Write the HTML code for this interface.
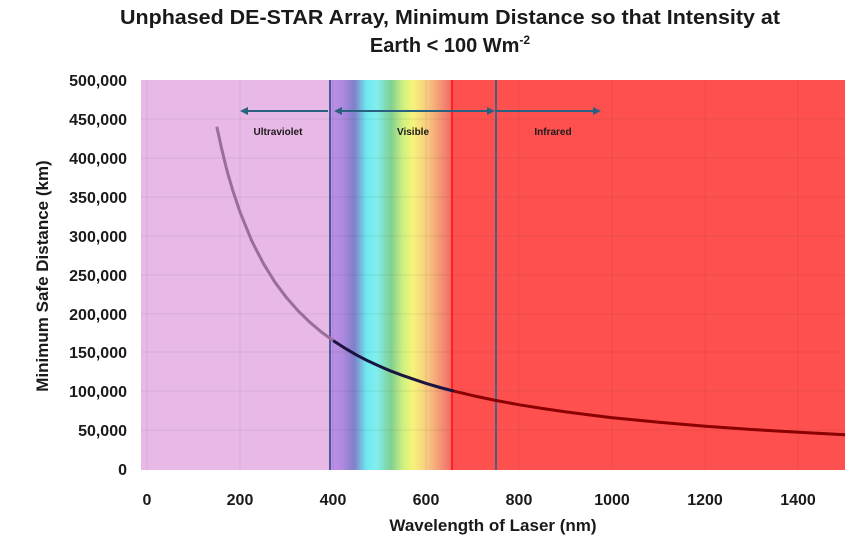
<!DOCTYPE html>
<html><head><style>
body{margin:0;background:#fff;width:857px;height:542px;overflow:hidden}
svg text{font-family:"Liberation Sans",sans-serif;font-weight:bold;fill:#1a1a1a}
</style></head><body>
<svg width="857" height="542" viewBox="0 0 857 542">
<defs>
<linearGradient id="sp" x1="330" x2="452" gradientUnits="userSpaceOnUse">
<stop offset="0" stop-color="#c090e8"/>
<stop offset="0.1" stop-color="#b08ae0"/>
<stop offset="0.2" stop-color="#8080c8"/>
<stop offset="0.3" stop-color="#70e8f0"/>
<stop offset="0.38" stop-color="#80eef0"/>
<stop offset="0.5" stop-color="#80d090"/>
<stop offset="0.6" stop-color="#d0f080"/>
<stop offset="0.68" stop-color="#f6f47a"/>
<stop offset="0.8" stop-color="#f8c880"/>
<stop offset="1" stop-color="#f06868"/>
</linearGradient>
</defs>
<text x="450" y="24" font-size="20" text-anchor="middle" textLength="660" lengthAdjust="spacingAndGlyphs">Unphased DE-STAR Array, Minimum Distance so that Intensity at</text>
<text x="450" y="52" font-size="20" text-anchor="middle">Earth &lt; 100 Wm<tspan font-size="12" dy="-8">-2</tspan></text>
<rect x="141" y="80" width="189" height="390" fill="#e8b8e6"/>
<rect x="330" y="80" width="122" height="390" fill="url(#sp)"/>
<rect x="452" y="80" width="393" height="390" fill="#ff5050"/>
<g stroke="#000" stroke-opacity="0.07" stroke-width="1">
<line x1="141" x2="845" y1="119" y2="119"/><line x1="141" x2="845" y1="158" y2="158"/><line x1="141" x2="845" y1="197" y2="197"/><line x1="141" x2="845" y1="236" y2="236"/><line x1="141" x2="845" y1="275" y2="275"/><line x1="141" x2="845" y1="314" y2="314"/><line x1="141" x2="845" y1="352" y2="352"/><line x1="141" x2="845" y1="391" y2="391"/><line x1="141" x2="845" y1="430" y2="430"/>
<line y1="80" y2="470" x1="147" x2="147"/><line y1="80" y2="470" x1="240" x2="240"/><line y1="80" y2="470" x1="333" x2="333"/><line y1="80" y2="470" x1="426" x2="426"/><line y1="80" y2="470" x1="519" x2="519"/><line y1="80" y2="470" x1="612" x2="612"/><line y1="80" y2="470" x1="705" x2="705"/><line y1="80" y2="470" x1="798" x2="798"/>
</g>
<line x1="330" x2="330" y1="80" y2="470" stroke="#4a5a9a" stroke-width="2"/>
<line x1="452" x2="452" y1="80" y2="470" stroke="#ff2020" stroke-width="2"/>
<line x1="496" x2="496" y1="80" y2="470" stroke="#4a6080" stroke-width="2"/>
<polyline fill="none" stroke="#9a6e9a" stroke-width="3" stroke-linejoin="round" points="216.8,126.7 221.5,148.1 226.1,167 228.4,175.6 233.1,191.4 240.1,212.3 251.7,240.8 263.4,263.6 275,282.3 286.6,297.8 298.3,311 309.9,322.3 321.5,332.1 333.2,340.6"/>
<polyline fill="none" stroke="#1a1440" stroke-width="3" stroke-linejoin="round" points="333.2,340.6 344.8,348.1 356.4,354.9 368,360.9 379.7,366.3 391.3,371.2 403,375.6 414.6,379.6 426.2,383.4 440,387.5 454.2,391.2"/>
<polyline fill="none" stroke="#8b0000" stroke-width="3" stroke-linejoin="round" points="454.2,391.2 472.8,395.6 496.1,400.5 519.3,404.8 542.6,408.5 565.9,411.9 589.1,414.9 612.4,417.7 658.9,422.3 705.5,426.2 752,429.5 798.6,432.3 845.1,434.8"/>
<g stroke="#2a6080" stroke-width="2" fill="#2a6080">
<line x1="244" x2="328" y1="111" y2="111"/><polygon points="240,111 248,107 248,115" stroke="none"/>
<line x1="338" x2="492" y1="111" y2="111"/><polygon points="334,111 342,107 342,115" stroke="none"/><polygon points="495,111 487,107 487,115" stroke="none"/>
<line x1="496" x2="596" y1="111" y2="111"/><polygon points="601,111 593,107 593,115" stroke="none"/>
</g>
<text x="278" y="135" font-size="10" text-anchor="middle">Ultraviolet</text>
<text x="413" y="135" font-size="10" text-anchor="middle">Visible</text>
<text x="553" y="135" font-size="10" text-anchor="middle">Infrared</text>
<g font-size="16" text-anchor="end">
<text x="127" y="86">500,000</text><text x="127" y="125">450,000</text><text x="127" y="164">400,000</text><text x="127" y="203">350,000</text><text x="127" y="242">300,000</text><text x="127" y="281">250,000</text><text x="127" y="320">200,000</text><text x="127" y="358">150,000</text><text x="127" y="397">100,000</text><text x="127" y="436">50,000</text><text x="127" y="475">0</text>
</g>
<g font-size="16" text-anchor="middle">
<text x="147" y="505">0</text><text x="240" y="505">200</text><text x="333" y="505">400</text><text x="426" y="505">600</text><text x="519" y="505">800</text><text x="612" y="505">1000</text><text x="705" y="505">1200</text><text x="798" y="505">1400</text>
</g>
<text x="493" y="531" font-size="17" text-anchor="middle">Wavelength of Laser (nm)</text>
<text transform="translate(48,276) rotate(-90)" font-size="17" text-anchor="middle">Minimum Safe Distance (km)</text>
</svg>
</body></html>
